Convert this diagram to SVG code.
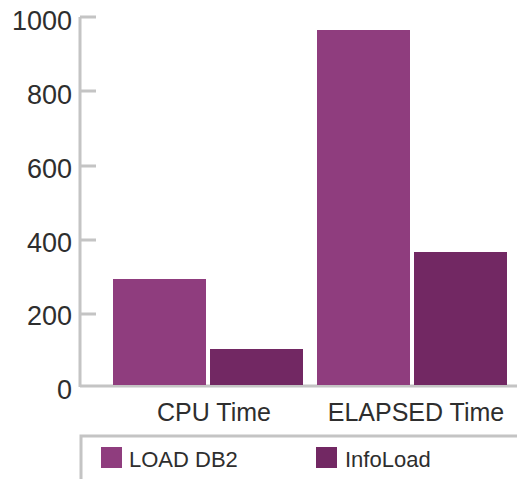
<svg xmlns="http://www.w3.org/2000/svg" width="517" height="479" viewBox="0 0 517 479">
<style>
.ax{stroke:#c4c4c4;stroke-width:3;fill:none}
.lbl{font-family:"Liberation Sans",Arial,sans-serif;fill:#2e2e2e}
.yl{font-size:27px;text-anchor:end}
.cl{font-size:25px;text-anchor:middle}
.ll{font-size:22px}
.c1{fill:#8f3d7e}
.c2{fill:#722863}
</style>
<rect width="517" height="479" fill="#ffffff"/>
<g id="axis">
<path class="ax" d="M80 17V387M80 17H96M80 91H96M80 166H96M80 240H96M80 314H96M80 386H517"/>
<text class="lbl yl" x="72" y="30">1000</text>
<text class="lbl yl" x="72" y="104">800</text>
<text class="lbl yl" x="72" y="178">600</text>
<text class="lbl yl" x="72" y="252">400</text>
<text class="lbl yl" x="72" y="325">200</text>
<text class="lbl yl" x="72" y="399">0</text>
</g>
<g id="bars">
<rect id="cpu-load" class="c1" x="113" y="279" width="93" height="106"/>
<rect id="cpu-info" class="c2" x="210" y="349" width="93" height="36"/>
<rect id="el-load" class="c1" x="317" y="30" width="93" height="355"/>
<rect id="el-info" class="c2" x="414" y="252" width="93" height="133"/>
</g>
<g id="categories">
<text class="lbl cl" x="214" y="421">CPU Time</text>
<text class="lbl cl" x="416" y="421">ELAPSED Time</text>
</g>
<g id="legend">
<path class="ax" d="M81 479V436H517"/>
<rect class="c1" x="101" y="447" width="21" height="21"/>
<text class="lbl ll" x="129" y="467">LOAD DB2</text>
<rect class="c2" x="316" y="447" width="21" height="21"/>
<text class="lbl ll" x="345" y="467">InfoLoad</text>
</g>
</svg>
